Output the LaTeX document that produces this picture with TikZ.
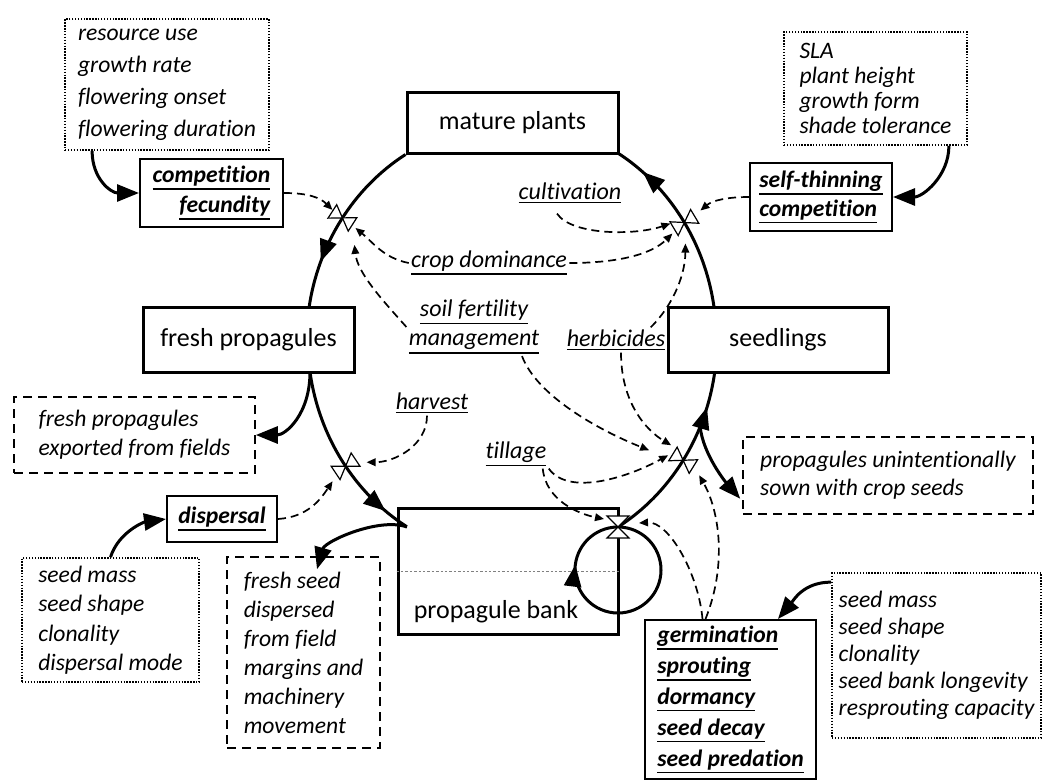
\documentclass[tikz,border=0pt]{standalone}
\usepackage{fontspec}
\setmainfont{Carlito}[Ligatures=NoCommon]
\usetikzlibrary{arrows.meta,decorations.markings}

% hourglass valve, drawn in the local frame of a flow
\newcommand{\valveshape}[2]{%
  \filldraw[fill=white,line width=0.6pt,solid] (0,0) -- (-#1,#2) -- (#1,#2) -- cycle
    (0,0) -- (-#1,-#2) -- (#1,-#2) -- cycle;}
% underline a bit heavier than \underline
\newcommand{\ulab}[1]{\leavevmode\vtop{\hbox{#1}\kern1pt\hrule height 0.8pt}}

\begin{document}
\begin{tikzpicture}[x=0.5pt,y=0.5pt,
  stockbox/.style={draw,line width=1.5pt,inner sep=0pt,font=\fontsize{13}{15}\selectfont},
  ratebox/.style={draw,line width=1pt,inner sep=0pt,align=left,font=\fontsize{11.8}{#1}\selectfont\bfseries\itshape},
  traitbox/.style={draw,line width=0.9pt,dash pattern=on 0.7pt off 0.75pt,inner sep=0pt,align=left,font=\fontsize{11.8}{#1}\selectfont\itshape},
  sidebox/.style={draw,line width=0.8pt,dash pattern=on 4.5pt off 3pt,inner sep=0pt,align=left,font=\fontsize{11.8}{#1}\selectfont\itshape},
  leverlab/.style={inner sep=1pt,align=center,font=\fontsize{12}{14.5}\selectfont\itshape},
  mainpipe/.style={line width=1.5pt,>={Triangle[length=11pt,width=8.5pt]}},
  infarrow/.style={line width=1.5pt,-{Triangle[length=11pt,width=8.5pt]}},
  infolink/.style={line width=0.85pt,dash pattern=on 4pt off 2.5pt,-{Triangle[length=4.5pt,width=3.8pt]}},
]
  \pgfmathsetmacro\rx{204}   % half width of the life cycle ring
  \pgfmathsetmacro\ry{218}   % half height of the life cycle ring

  \useasboundingbox (0,0) rectangle (1043,-782);

% stocks
  \node[stockbox,minimum width=105.5pt,minimum height=30.5pt] (mature) at (512.5,-122.5) {mature plants};
  \node[stockbox,minimum width=105.5pt,minimum height=32.5pt] (fresh) at (248.5,-339.5) {fresh propagules};
  \node[stockbox,minimum width=110pt,minimum height=32.5pt] (seedl) at (778,-339.5) {seedlings};
  \node[stockbox,minimum width=110pt,minimum height=63pt] (bank) at (508,-571) {};
  \node[font=\fontsize{13}{15}\selectfont,inner sep=0pt] (banklab) at (496,-612) {propagule bank};
  \draw[gray,line width=0.4pt,dash pattern=on 1.2pt off 1pt] (bank.west) -- (bank.east);

% rates
  \node[ratebox=15,align=right,minimum width=71.5pt,minimum height=34pt] (compfec) at (211.5,-193) {\ulab{competition}\\\ulab{fecundity}};
  \node[ratebox=14.5,minimum width=71pt,minimum height=34pt] (selfthin) at (821,-197) {\ulab{self-thinning}\\\ulab{competition}};
  \node[ratebox=14,minimum width=55pt,minimum height=23pt] (dispersal) at (222,-519) {\ulab{dispersal}};
  \node[ratebox=15.5,minimum width=85.5pt,minimum height=79.5pt] (germ) at (730.5,-699.5) {\ulab{germination}\\\ulab{sprouting}\\\ulab{dormancy}\\\ulab{seed decay}\\\ulab{seed predation}};

% trait boxes
  \node[traitbox=16,minimum width=102pt,minimum height=65.5pt] (traitA) at (167,-84.5) {resource use\\growth rate\\flowering onset\\flowering duration};
  \node[traitbox=12.5,minimum width=91.5pt,minimum height=56.5pt] (traitB) at (875.5,-88.5) {SLA\\plant height\\growth form\\shade tolerance};
  \node[traitbox=14.7,minimum width=88.5pt,minimum height=62pt] (traitC) at (110.5,-620) {seed mass\\seed shape\\clonality\\dispersal mode};
  \node[traitbox=13.5,minimum width=104.5pt,minimum height=82.5pt] (traitD) at (936.5,-655.5) {seed mass\\seed shape\\clonality\\seed bank longevity\\resprouting capacity};

% sources and sinks outside the field
  \node[sidebox=14.5,minimum width=120.5pt,minimum height=38pt] (export) at (134.5,-435) {fresh propagules\\exported from fields};
  \node[sidebox=14.5,minimum width=76.5pt,minimum height=95.5pt] (margin) at (303.5,-652.5) {fresh seed\\dispersed\\from field\\margins and\\machinery\\movement};
  \node[sidebox=14,minimum width=145pt,minimum height=38.5pt] (sown) at (888,-475.5) {propagules unintentionally\\sown with crop seeds};

% management levers
  \node[leverlab] (cult) at (570,-193) {\ulab{cultivation}};
  \node[leverlab] (cropdom) at (489,-263) {\ulab{crop dominance}};
  \node[leverlab] (soil) at (474,-327) {\ulab{soil fertility}\\\ulab{management}};
  \node[leverlab] (herb) at (616,-340) {\ulab{herbicides}};
  \node[leverlab] (harvest) at (432,-403) {\ulab{harvest}};
  \node[leverlab] (tillage) at (516,-454) {\ulab{tillage}};

% ring points
  \coordinate (fpBot) at (310,-372);
  \coordinate (sdTop) at (714,-307);
  \coordinate (pbIn) at (407,-527);
  \coordinate (vPB) at (618,-527);

% mature plants -> fresh propagules
  \draw[mainpipe,postaction={decorate,decoration={markings,
      mark=at position 0.48 with {\coordinate (vMF); \valveshape{8}{12}},
      mark=at position 0.74 with {\arrow{>}}}}]
    (mature.south west) arc[start angle=121,end angle=171.4,x radius=\rx,y radius=\ry];
% fresh propagules -> propagule bank
  \draw[mainpipe,postaction={decorate,decoration={markings,
      mark=at position 0.54 with {\coordinate (vFB); \valveshape{8}{12}},
      mark=at position 0.86 with {\arrow{>}}}}]
    (fpBot) arc[start angle=188.5,end angle=239,x radius=\rx,y radius=\ry];
% propagule bank -> seedlings
  \draw[mainpipe,postaction={decorate,decoration={markings,
      mark=at position 0.50 with {\coordinate (vBS); \valveshape{8}{12}},
      mark=at position 0.70 with {\coordinate (sdBranch);},
      mark=at position 0.81 with {\arrow{>}}}}]
    (vPB) arc[start angle=301,end angle=351.5,x radius=\rx,y radius=\ry];
% seedlings -> mature plants
  \draw[mainpipe,postaction={decorate,decoration={markings,
      mark=at position 0.48 with {\coordinate (vSM); \valveshape{8}{12}},
      mark=at position 0.83 with {\arrow{>}}}}]
    (sdTop) arc[start angle=8.6,end angle=59,x radius=\rx,y radius=\ry];
% loop within the propagule bank
  \draw[mainpipe,postaction={decorate,decoration={markings,
      mark=at position 0.77 with {\arrow{>}}}}]
    (vPB) arc[start angle=90,end angle=-270,radius=43];
  \begin{scope}[shift={(vPB)}]
    \valveshape{11}{11}
  \end{scope}

% trait influences and exchanges with outside
  \draw[infarrow] ([xshift=14pt]traitA.south west) .. controls +(0,-28) and +(-28,0) .. (compfec.west);
  \draw[infarrow] ([xshift=-9.5pt]traitB.south east) .. controls +(0,-30) and +(30,0) .. (selfthin.east);
  \draw[infarrow] (traitC.north) .. controls +(8,25) and +(-22,-3) .. (dispersal.west);
  \draw[infarrow] ([yshift=-5pt]traitD.north west) .. controls +(-28,0) and +(15,18) .. ([xshift=-19.5pt]germ.north east);
  \draw[infarrow] (fpBot) .. controls +(0,-42) and +(30,0) .. (export.east);
  \draw[infarrow] (pbIn) .. controls +(-28,10) and +(8,28) .. ([shift={(13.5,-13)}]margin.north);
  \draw[infarrow] (sdBranch) .. controls +(3,-28) and +(-14,16) .. ([shift={(-2,16)}]sown.south west);

% information links to valves
  \draw[infolink] (compfec.east) .. controls +(25,0) and +(-12,12) .. ([shift={(-10,8)}]vMF);
  \draw[infolink] (selfthin.west) .. controls +(-22,0) and +(12,10) .. ([shift={(16,12)}]vSM);
  \draw[infolink] ([shift={(-13,-8)}]cult.south) .. controls +(15,-22) and +(-35,-12) .. ([shift={(-14,-1)}]vSM);
  \draw[infolink] (cropdom.west) .. controls +(-25,5) and +(18,-15) .. ([shift={(13,-10)}]vMF);
  \draw[infolink] (cropdom.east) .. controls +(45,0) and +(-22,-22) .. ([shift={(-12,-11)}]vSM);
  \draw[infolink] (soil.west) .. controls +(-25,28) and +(3,-28) .. ([shift={(12,-27)}]vMF);
  \draw[infolink] ([xshift=24pt]soil.south) .. controls +(15,-40) and +(-50,20) .. ([shift={(-34,10)}]vBS);
  \draw[infolink] ([xshift=-8.5pt]herb.north east) .. controls +(25,25) and +(0,-28) .. ([shift={(1,-21)}]vSM);
  \draw[infolink] ([xshift=2.5pt]herb.south) .. controls +(0,-50) and +(-25,15) .. ([shift={(-12,15)}]vBS);
  \draw[infolink] ([xshift=-2.5pt]harvest.south) .. controls +(0,-30) and +(28,0) .. ([shift={(21,4)}]vFB);
  \draw[infolink] (dispersal.east) .. controls +(30,2) and +(-12,-18) .. ([shift={(-13,-15)}]vFB);
  \draw[infolink] (tillage.south east) .. controls +(20,-28) and +(-40,-22) .. ([shift={(-15,5)}]vBS);
  \draw[infolink] ([xshift=-3pt]tillage.south east) .. controls +(3,-32) and +(-25,5) .. ([shift={(-14,8)}]vPB);
  \draw[infolink] ([xshift=-14pt]germ.north) .. controls +(-4,45) and +(30,2) .. ([shift={(21,4)}]vPB);
  \draw[infolink] ([xshift=-12.5pt]germ.north) .. controls +(22,55) and +(20,-35) .. ([shift={(16,-15)}]vBS);

\end{tikzpicture}
\end{document}
